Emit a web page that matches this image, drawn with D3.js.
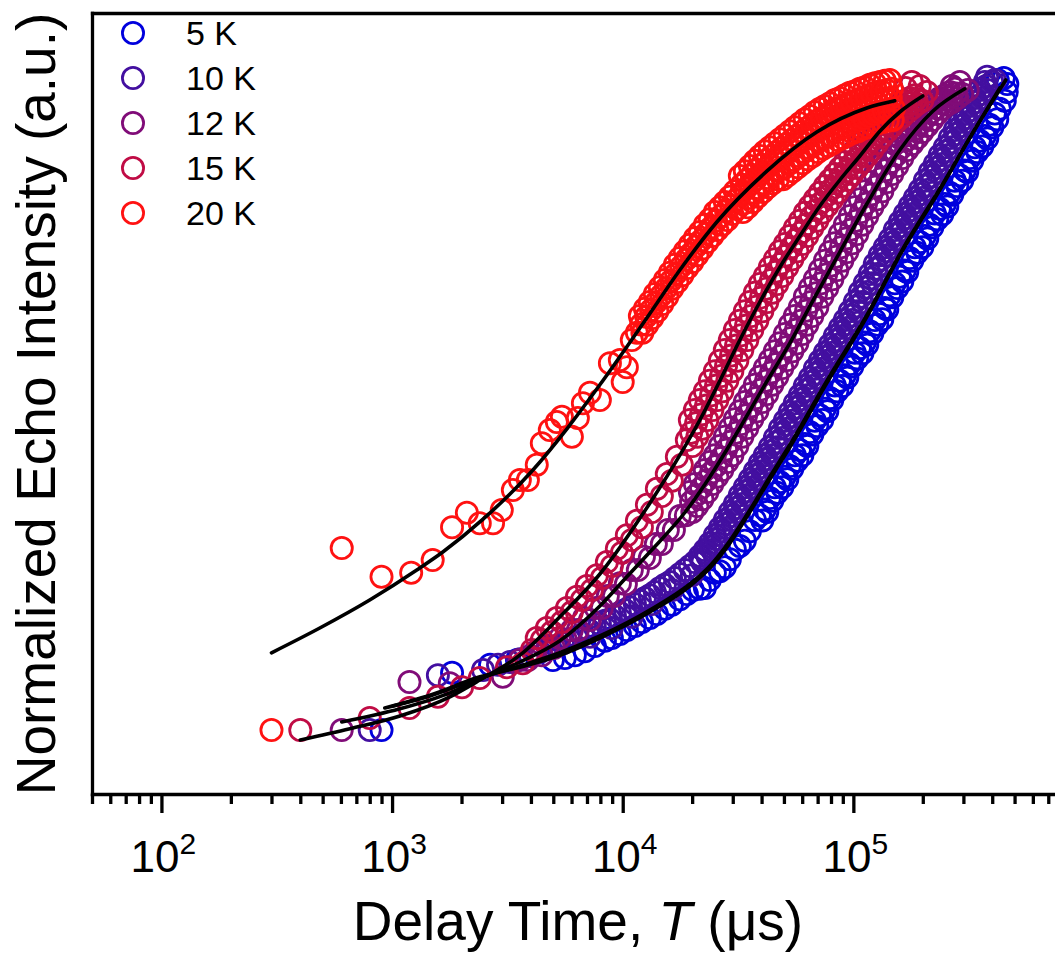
<!DOCTYPE html>
<html>
<head>
<meta charset="utf-8">
<script src="https://cdn.jsdelivr.net/npm/d3@7"></script>
<style>
  body { margin: 0; background: #fff; }
  svg { display: block; }
  text { font-family: "Liberation Sans", Arial, sans-serif; fill: #000; }
</style>
</head>
<body>
<div id="main"></div>
<script>
const ctx = {
    width: 1055,
    height: 957,
    left: 92,
    right: 1084,
    top: 13,
    bottom: 794
};

// axis setup
const xDomain = [50, 1e6];
const yDomain = [-7.75, 89.875];
const majorTicks = [1e2, 1e3, 1e4, 1e5];
const tickExps = ["2", "3", "4", "5"];

const labels = ["5 K", "10 K", "12 K", "15 K", "20 K"];
const colors = ["#0000dd", "#430fa0", "#800c78", "#c00c45", "#ff1212"];

// measured points [delay time in us, normalized echo intensity]
const k5 = [[900,0.25],[1820,7.4],[2660,8.4],[3480,9.0],[4980,9.0],[5610,9.25],[6200,9.6],[6850,10.1],[7570,10.75],[8370,11.4],[8970,11.75],[9720,12.25],[10420,12.75],[11290,13.25],[12110,13.75],[13110,14.25],[14060,14.75],[15230,15.4],[16330,15.9],[17690,16.6],[18970,17.25],[20140,17.75],
[21600,17.9],[22710,18.0],[23870,19.0],[25090,19.9],[26370,20.1],[27720,20.6],[29140,21.6],[30630,22.8],[32200,23.25],[33850,23.9],[35580,25.1],[37400,26.5],[39310,27.1],[41320,27.8],[43440,29.25],[45660,30.6],[48000,31.25],[50450,31.9],[53040,33.25],[55750,34.6],[58610,35.25],[61610,36.0],[64760,37.5],[68070,38.9],[71560,39.6],[75220,40.4],[79070,41.75],[83120,43.3],[87370,43.9],[91840,44.6],[96540,46.0],[101500,47.4],[106700,48.0],[112100,48.7],[117900,50.1],[123900,51.5],[130200,52.25],[136900,53.0],[143900,54.6],[151300,56.1],[159000,56.9],[167100,57.7],[175700,59.25],[184700,60.6],[194100,61.25],[204100,62.0],[214500,63.4],[225500,64.8],[237000,65.4],[249200,66.0],[261900,67.4],[275300,68.9],[289400,69.6],[304200,70.2],[319800,71.75],[336200,73.1],[353300,73.9],[371400,74.5],[390400,75.9],[410400,77.3],[422700,81.5],[431400,77.9],[449100,81.75],[453500,78.9],[462600,80.0],[465000,81.0],
[40290,26.45],[42350,27.5],[44530,28.9],[46800,29.9],[49200,30.6],[51710,31.6],[54370,32.9],[57140,33.9],[60080,34.6],[63150,35.75],[66380,37.2],[69770,38.25],[73350,39.0],[77100,40.1],[81050,41.5],[85200,42.6],[89550,43.25],[94140,44.3],[98950,45.7],[104000,46.7],[109400,47.35],[114900,48.4],[120800,49.8],[127000,50.9],[133500,51.6],[140300,52.8],[147500,54.35],[155100,55.5],[163000,56.3],[171300,57.5],[180100,58.9],[189300,59.9],[199000,60.6],[209200,61.7],[219900,63.1],[231100,64.1],[242900,64.7],[255400,65.7],[268400,67.15],[282200,68.25],[296600,68.9],[311800,70.0],[327800,71.4],[344600,72.5],[362100,73.2],[380700,74.2],[400200,75.6],[420600,76.6]];

const k10 = [[800,0.25],[1580,7.1],[2480,7.75],[2880,8.4],[3240,8.75],[3580,9.1],[3960,9.5],[4380,10.0],[4740,10.4],[5130,10.75],[5500,11.1],[5900,11.5],[6330,11.9],[6720,12.25],[7140,12.75],[7210,11.9],[7570,13.1],[7960,13.5],[8370,13.9],[8800,14.1],[8970,13.0],[9250,14.5],[9720,14.9],[10220,15.25],[10740,15.6],[10950,14.4],[11290,16.0],[11870,16.4],[12480,16.75],[13110,17.1],[13370,16.0],[13780,17.5],[14490,18.0],[15230,18.4],[16010,18.75],[16330,17.75],[16830,19.25],[17690,19.75],[18600,20.25],[19550,20.75],[19940,19.6],[20550,21.25],
[21600,22.0],[22140,21.25],[22710,22.75],[23280,22.0],[23870,23.6],[24470,22.75],[25090,24.6],[25720,23.6],[26370,25.5],[27030,24.6],[27720,26.5],[28410,25.5],[29140,27.5],[29870,26.5],[30630,28.5],[31400,27.5],[32200,29.6],[33010,28.5],[33850,30.6],[34700,29.6],[35580,31.6],[36470,30.6],[37400,32.6],[38340,31.6],[39310,33.6],[40290,32.6],[41320,34.6],[42350,33.6],[43440,35.6],[44530,34.6],[45660,36.75],[46800,35.6],[48000,37.9],[49200,36.75],[50450,38.9],[51710,37.9],[53040,40.0],[54370,38.9],[55750,41.1],[57140,40.0],[58610,42.1],[60080,41.1],[61610,43.25],[63150,42.1],[64760,44.25],[66380,43.25],[68070,45.4],[69770,44.25],[71560,46.4],[73350,45.4],[75220,47.4],[77100,46.4],[79070,48.4],[81050,47.4],[83120,49.5],[85200,48.4],[87370,50.5],[89550,49.5],[91840,51.5],[94140,50.5],[96540,52.6],[98950,51.5],[101500,53.75],[104000,52.6],[106700,55.0],[109400,53.75],[112100,56.1],[114900,55.0],[117900,57.25],[120800,56.1],[123900,58.5],[127000,57.25],[130200,59.6],[133500,58.5],[136900,60.6],[140300,59.6],[143900,61.6],[147500,60.6],[151300,62.75],[155100,61.6],[159000,63.75],[163000,62.75],[167100,64.75],[171300,63.75],[175700,65.75],[180100,64.75],[184700,66.75],[189300,65.75],[194100,67.75],[199000,66.75],[204100,68.9],[209200,67.75],[214500,70.0],[219900,68.9],[225500,71.0],[231100,70.0],[237000,72.1],[242900,71.0],[249200,73.1],[255400,72.1],[261900,74.25],[268400,73.1],[275300,75.25],[282200,74.25],[289400,76.25],[296600,75.25],[304200,77.25],[311800,76.25],[319800,78.25],[327800,77.25],[336200,79.25],[344600,78.25],[353300,80.25],[362100,79.25],[371400,81.25],[380000,81.9],[380700,80.25],[400200,81.25],[410400,81.5],
[21870,21.6],[22990,22.4],[24170,23.2],[25400,24.1],[26700,25.05],[28070,26.0],[29500,27.0],[31010,28.0],[32600,29.05],[34270,30.1],[36020,31.1],[37870,32.1],[39800,33.1],[41840,34.1],[43980,35.1],[46230,36.2],[48600,37.3],[51080,38.4],[53700,39.45],[56450,40.55],[59340,41.6],[62380,42.7],[65570,43.75],[68920,44.8],[72450,45.9],[76160,46.9],[80060,47.9],[84160,48.95],[88460,50.0],[92990,51.0],[97750,52.05],[102800,53.2],[108000,54.4],[113500,55.55],[119400,56.7],[125400,57.9],[131800,59.05],[138600,60.1],[145700,61.1],[153200,62.2],[161000,63.25],[169200,64.25],[177900,65.25],[187000,66.25],[196500,67.25],[206700,68.3],[217200,69.45],[228300,70.5],[240000,71.55],[252300,72.6],[265200,73.7],[278700,74.75],[293000,75.75],[308000,76.75],[323800,77.75],[340400,78.75],[357700,79.75],[376000,80.75]];

const k12 = [[605,0.25],[1190,6.25],[1780,6.1],[3020,6.9],[3580,9.0],[3880,9.0],[4160,10.0],[4460,9.6],[4740,10.75],[5030,10.5],[5340,11.75],[5670,11.5],[6020,12.75],[6390,12.75],[6790,14.25],[7210,14.0],[7650,15.5],[8120,15.5],[8620,17.0],[9160,17.0],[9720,18.6],[10320,18.5],[10950,20.25],[11630,20.25],[12360,21.9],[13110,21.75],[13920,23.5],[14780,23.5],[15690,25.25],[16670,25.25],[17690,27.0],[18790,27.1],
[19550,30.0],[20040,27.5],[20550,31.0],[21060,28.25],[21600,31.9],[22140,29.1],[22710,32.75],[23280,30.0],[23870,33.75],[24470,31.0],[25090,34.6],[25720,31.9],[26370,35.75],[27030,32.75],[27720,36.9],[28410,33.75],[29140,38.0],[29870,34.6],[30630,39.1],[31400,35.75],[32200,40.1],[33010,36.9],[33850,41.25],[34700,38.0],[35580,42.25],[36470,39.1],[37400,43.4],[38340,40.1],[39310,44.4],[40290,41.25],[41320,45.5],[42350,42.25],[43440,46.5],[44530,43.4],[45660,47.6],[46800,44.4],[48000,48.6],[49200,45.5],[50450,49.75],[51710,46.5],[53040,50.9],[54370,47.6],[55750,52.0],[57140,48.6],[58610,53.1],[60080,49.75],[61610,54.4],[63150,50.9],[64760,55.5],[66380,52.0],[68070,56.6],[69770,53.1],[71560,57.75],[73350,54.4],[75220,58.9],[77100,55.5],[79070,60.0],[81050,56.6],[83120,61.1],[85200,57.75],[87370,62.25],[89550,58.9],[91840,63.4],[94140,60.0],[96540,64.5],[98950,61.1],[101500,65.6],[104000,62.25],[106700,66.6],[109400,63.4],[112100,67.6],[114900,64.5],[117900,68.75],[120800,65.6],[123900,69.75],[127000,66.6],[130200,70.75],[133500,67.6],[136900,71.75],[140300,68.75],[143900,72.75],[147500,69.75],[151300,73.5],[155100,70.75],[159000,74.25],[163000,71.75],[167100,75.0],[171300,72.75],[175700,75.75],[180100,73.5],[184700,76.5],[189300,74.25],[194100,77.25],[199000,75.0],[204100,77.9],[209200,75.75],[214500,78.4],[219900,76.5],[225500,78.75],[231100,77.25],[237000,79.25],[242900,77.9],[249200,79.6],[255400,78.4],[261900,80.0],[267100,80.75],[268400,78.75],[275300,80.4],[282200,79.25],[289400,81.25],[296600,79.75],[313300,80.25],
[19790,28.75],[20810,29.6],[21870,30.5],[22990,31.4],[24170,32.4],[25400,33.25],[26700,34.25],[28070,35.3],[29500,36.3],[31010,37.4],[32600,38.5],[34270,39.6],[36020,40.7],[37870,41.75],[39800,42.8],[41840,43.9],[43980,44.95],[46230,46.0],[48600,47.05],[51080,48.1],[53700,49.25],[56450,50.3],[59340,51.4],[62380,52.65],[65570,53.75],[68920,54.85],[72450,56.1],[76160,57.2],[80060,58.3],[84160,59.4],[88460,60.6],[92990,61.7],[97750,62.8],[102800,63.9],[108000,65.0],[113500,66.05],[119400,67.2],[125400,68.2],[131800,69.2],[138600,70.25],[145700,71.25],[153200,72.1],[161000,73.0],[169200,73.9],[177900,74.6],[187000,75.4],[196500,76.1],[206700,76.8],[217200,77.45],[228300,78.0],[240000,78.6],[252300,79.0],[265200,79.4],[278700,79.8]];

const k15 = [[400,0.25],[800,1.75],[1190,3.0],[1580,4.4],[2010,5.6],[2400,6.75],[3150,8.1],[3690,8.6],[4040,10.25],[4240,11.75],[4460,11.5],[4690,13.0],[4930,12.5],[5180,14.25],[5450,13.75],[5730,15.5],[6020,15.0],[6330,16.9],[6650,16.5],[6990,18.25],[7350,17.75],[7730,19.6],[8120,19.25],[8540,21.25],[8970,20.75],[9430,22.9],[9920,22.4],[10420,24.6],[10950,24.0],[11520,26.4],[12110,25.6],[12730,28.4],[13370,27.5],[14060,30.4],[14780,29.5],[15530,32.25],[16330,31.4],[17170,34.4],[18040,33.4],[18970,36.5],
[19550,39.0],[20040,35.75],[20550,40.25],[21060,36.9],[21600,41.5],[22140,37.9],[22710,42.6],[23280,39.0],[23870,43.9],[24470,40.25],[25090,45.1],[25720,41.5],[26370,46.4],[27030,42.6],[27720,47.75],[28410,43.9],[29140,49.0],[29870,45.1],[30630,50.25],[31400,46.4],[32200,51.4],[33010,47.75],[33850,52.6],[34700,49.0],[35580,53.75],[36470,50.25],[37400,54.9],[38340,51.4],[39310,56.0],[40290,52.6],[41320,57.0],[42350,53.75],[43440,58.1],[44530,54.9],[45660,59.1],[46800,56.0],[48000,60.1],[49200,57.0],[50450,61.0],[51710,58.1],[53040,62.0],[54370,59.1],[55750,63.0],[57140,60.1],[58610,63.9],[60080,61.0],[61610,64.9],[63150,62.0],[64760,65.75],[66380,63.0],[68070,66.6],[69770,63.9],[71560,67.4],[73350,64.9],[75220,68.25],[77100,65.75],[79070,69.0],[81050,66.6],[83120,69.75],[85200,67.4],[87370,70.5],[89550,68.25],[91840,71.25],[94140,69.0],[96540,72.0],[98950,69.75],[101500,72.75],[104000,70.5],[106700,73.6],[109400,71.25],[112100,74.4],[114900,72.0],[117900,75.1],[120800,72.75],[123900,75.75],[127000,73.6],[130200,76.4],[133500,74.4],[136900,76.9],[140300,75.1],[143900,77.5],[147500,75.75],[151300,78.0],[155100,76.4],[159000,78.5],[163000,76.9],[167100,78.9],[168500,80.5],[171300,77.5],[175700,79.25],[179200,81.25],[180100,78.0],[184700,79.6],[189300,78.5],[194100,80.75],[199000,78.9],[208200,80.0],
[19790,37.4],[20810,38.6],[21870,39.7],[22990,40.8],[24170,42.1],[25400,43.3],[26700,44.5],[28070,45.8],[29500,47.05],[31010,48.3],[32600,49.6],[34270,50.8],[36020,52.0],[37870,53.15],[39800,54.3],[41840,55.4],[43980,56.5],[46230,57.55],[48600,58.55],[51080,59.55],[53700,60.55],[56450,61.55],[59340,62.45],[62380,63.45],[65570,64.4],[68920,65.25],[72450,66.15],[76160,67.0],[80060,67.8],[84160,68.6],[88460,69.4],[92990,70.1],[97750,70.9],[102800,71.6],[108000,72.4],[113500,73.2],[119400,73.9],[125400,74.7],[131800,75.4],[138600,76.0],[145700,76.6],[153200,77.2],[161000,77.7],[169200,78.2],[177900,78.6],[187000,79.05]];

const k20 = [[300,0.25],[605,23.0],[900,19.4],[1210,19.9],[1500,21.5],[1820,25.6],[2110,27.4],[2400,26.1],[2740,26.1],[2990,27.75],[3340,30.25],[3580,31.5],[3880,31.5],[4240,33.4],[4460,36.1],[4830,37.75],[5180,38.75],[5450,39.4],[6020,36.9],[6390,39.25],[6720,41.1],[7210,42.4],[7960,41.5],[8800,46.1],[9720,46.5],[10000,43.75],[10420,45.6],[10950,49.0],[11520,49.9],
[11870,52.0],[12170,49.9],[12480,52.9],[12790,50.9],[13110,53.75],[13440,51.75],[13780,54.75],[14120,52.6],[14490,55.6],[14850,53.5],[15230,56.5],[15610,54.4],[16010,57.4],[16410,55.4],[16830,58.4],[17250,56.25],[17690,59.25],[18130,57.1],[18600,60.1],[19070,58.0],[19550,60.9],[20040,58.75],[20550,61.75],[21060,59.6],[21600,62.5],[22140,60.4],[22710,63.4],[23280,61.25],[23870,64.1],[24470,62.0],[25090,65.0],[25720,62.75],[26370,65.6],[27030,63.4],[27720,66.25],[28410,64.0],[29140,66.9],[29870,64.75],[30630,67.6],[31400,65.4],
[12020,50.95],[12640,51.9],[13270,52.75],[13950,53.7],[14670,54.55],[15420,55.45],[16210,56.4],[17040,57.3],[17910,58.2],[18830,59.05],[19790,59.8],[20810,60.7],[21870,61.45],[22990,62.3],[24170,63.05],[25400,63.9],[26700,64.5],[28070,65.1],[29500,65.8],[31010,66.5],
[32200,69.5],[32520,67.25],[33170,65.0],[33850,70.1],[34190,67.9],[34870,65.6],[35580,70.75],[35940,68.5],[36650,66.25],[37400,71.4],[37770,69.1],[38520,66.9],[39310,72.0],[39700,69.75],[40490,67.5],[41320,72.6],[41730,70.4],[42560,68.1],[43440,73.1],[43870,70.9],[44740,68.6],[45660,73.6],[46120,71.4],[47030,69.1],[48000,74.1],[48480,71.9],[49440,69.1],[50450,74.6],[50950,72.4],[51960,69.6],[53040,75.1],[53570,72.9],[54630,70.1],[55750,75.6],[56310,73.4],[57420,70.6],[58610,76.1],[59200,73.9],[60370,71.1],[61610,76.6],[62230,74.4],[63460,71.6],[64760,77.0],[65410,74.75],[66700,72.0],[68070,77.5],[68750,75.25],[70110,72.5],[71560,77.9],[72280,75.6],[73710,72.9],[75220,78.25],[75970,76.0],[77480,73.25],[79070,78.6],[79860,76.4],[81440,73.6],[83120,79.0],[83950,76.75],[85610,74.0],[87370,79.25],[88240,77.0],[89990,74.25],[91840,79.6],[92760,77.4],[94600,74.6],[96540,79.9],[97510,77.6],[99440,74.9],[101500,80.1],[102500,77.9],[104500,75.1],[106700,80.4],[107800,78.1],[109900,75.4],[112100,80.6],[113200,78.4],[115500,75.6],[117900,80.9],[119100,78.6],[121400,75.9],[123900,81.1],[125100,78.9],[127600,76.1],[130200,81.25],[131500,79.0],[134100,76.25],[136900,81.4],[138300,79.1],[141000,76.4],[143900,81.5],[145300,79.25],[148200,76.5],
[32840,68.4],[33520,66.1],[34530,69.0],[35240,66.75],[36290,69.6],[37040,67.4],[38150,70.25],[38930,68.0],[40100,70.9],[40920,68.6],[42150,71.5],[43010,69.25],[44310,72.0],[45220,69.75],[46570,72.5],[47530,70.25],[48960,73.0],[49970,70.5],[51460,73.5],[52520,71.0],[54100,74.0],[55210,71.5],[56870,74.5],[58040,72.0],[59780,75.0],[61010,72.5],[62840,75.5],[64140,73.0],[66060,75.9],[67410,73.4],[69430,76.4],[70860,73.9],[72990,76.75],[74490,74.25],[76720,77.1],[78300,74.6],[80650,77.5],[82310,75.0],[84780,77.9],[86530,75.4],[89120,78.1],[90950,75.6],[93680,78.5],[95600,76.0],[98470,78.75],[100500,76.25],[103500,79.0],[105700,76.5],[108800,79.25],[111100,76.75],[114300,79.5],[116700,77.0],[120300,79.75],[122700,77.25],[126400,80.0],[129000,77.5],[132800,80.1],[135500,77.6],[139600,80.25],[142500,77.75],[146800,80.4],[149800,77.9]];

// fitted curves
const fit5 = [[930,3.0],[1460,4.6],[2404,6.9],[3583,8.1],[5341,9.6],[7962,11.75],[13110,15.0],[19550,18.25],[23870,20.5],[29140,23.6],[35580,27.5],[43440,31.6],[53040,35.6],[76710,43.6],[114400,51.9],[163800,60.25],[237000,67.75],[329400,74.9],[458200,81.5]];
const fit10 = [[1010,3.25],[1460,4.5],[2404,6.75],[3583,8.25],[5341,9.9],[7962,12.0],[13110,15.25],[19550,18.5],[23870,20.75],[29140,23.9],[35580,27.75],[43440,31.9],[53040,35.9],[76710,43.9],[114400,52.1],[163800,60.4],[237000,67.9],[329400,74.9],[431400,80.5]];
const fit12 = [[605,1.25],[1081,2.9],[1782,4.9],[2404,6.6],[3583,8.75],[5341,11.4],[7962,15.75],[10420,19.4],[13110,22.5],[18960,27.75],[23390,31.5],[32200,38.0],[41320,43.4],[53040,48.6],[66700,53.9],[87370,60.0],[114400,66.0],[159000,72.75],[220900,77.6],[304200,80.4]];
const fit15 = [[400,-1.0],[656,0.4],[1081,2.0],[1782,4.4],[2404,6.5],[3583,9.6],[5341,14.4],[7962,19.75],[13110,28.6],[17690,34.6],[21600,39.0],[26370,43.9],[32200,49.0],[39310,53.75],[48000,58.1],[58610,62.0],[71560,65.75],[87370,69.0],[106700,72.0],[130200,75.1],[159000,77.5],[199900,79.5]];
const fit20 = [[300,9.9],[486,13.0],[800,16.5],[1280,20.25],[1660,22.5],[2480,26.6],[4080,32.75],[5730,37.9],[7960,43.4],[12720,51.75],[17690,57.75],[25590,63.75],[42140,70.1],[69420,75.0],[114400,78.0],[151200,78.9]];

const series = [
    {label: labels[0], color: colors[0], pts: k5, fit: fit5},
    {label: labels[1], color: colors[1], pts: k10, fit: fit10},
    {label: labels[2], color: colors[2], pts: k12, fit: fit12},
    {label: labels[3], color: colors[3], pts: k15, fit: fit15},
    {label: labels[4], color: colors[4], pts: k20, fit: fit20}
];

const svg = d3.select("#main").append("svg")
    .attr("width", ctx.width)
    .attr("height", ctx.height);

const x = d3.scaleLog().domain(xDomain).range([ctx.left, ctx.right]);
const y = d3.scaleLinear().domain(yDomain).range([ctx.bottom, ctx.top]);

// open circles, lowest temperature first so the hotter ones sit on top
series.forEach(s => {
    svg.append("g")
        .selectAll("circle")
        .data(s.pts)
        .enter().append("circle")
        .attr("cx", d => x(d[0]))
        .attr("cy", d => y(d[1]))
        .attr("r", 10.6)
        .attr("fill", "none")
        .attr("stroke", s.color)
        .attr("stroke-width", 2.8);
});

// fit lines
const line = d3.line()
    .x(d => x(d[0]))
    .y(d => y(d[1]))
    .curve(d3.curveMonotoneX);

series.forEach(s => {
    svg.append("path")
        .datum(s.fit)
        .attr("d", line)
        .attr("fill", "none")
        .attr("stroke", "#000")
        .attr("stroke-width", 3.6)
        .attr("stroke-linecap", "round");
});

// frame and ticks
function styleAxis(g) {
    g.selectAll("path, line").attr("stroke", "#000").attr("stroke-width", 3.3);
    g.select(".domain").attr("stroke-linecap", "square");
}

svg.append("g")
    .attr("transform", `translate(0,${ctx.bottom})`)
    .call(d3.axisBottom(x).tickValues(majorTicks).tickSize(19).tickSizeOuter(0).tickFormat(""))
    .call(styleAxis);

const minorTicks = x.ticks().filter(v => Math.abs(Math.log10(v) % 1) > 1e-6);
svg.append("g")
    .attr("transform", `translate(0,${ctx.bottom})`)
    .call(d3.axisBottom(x).tickValues(minorTicks).tickSize(10).tickFormat(""))
    .call(g => g.select(".domain").remove())
    .call(styleAxis);

svg.append("g")
    .attr("transform", `translate(${ctx.left},0)`)
    .call(d3.axisLeft(y).tickValues([]).tickSizeOuter(0))
    .call(styleAxis);

svg.append("g")
    .attr("transform", `translate(0,${ctx.top})`)
    .call(d3.axisTop(x).tickValues([]).tickSizeOuter(0))
    .call(styleAxis);

// tick labels 10^n
majorTicks.forEach((v, k) => {
    const t = svg.append("text")
        .attr("x", x(v) + 2)
        .attr("y", 872)
        .attr("text-anchor", "middle")
        .style("font-size", "44px");
    t.append("tspan").text("10");
    t.append("tspan").attr("dy", -18).style("font-size", "30px").text(tickExps[k]);
});

// axis titles
const xl = svg.append("text")
    .attr("x", 578)
    .attr("y", 940)
    .attr("text-anchor", "middle")
    .style("font-size", "55px");
xl.append("tspan").text("Delay Time, ");
xl.append("tspan").style("font-style", "italic").text("T");
xl.append("tspan").text(" (\u03bcs)");

svg.append("text")
    .attr("transform", "translate(55,404) rotate(-90)")
    .attr("text-anchor", "middle")
    .style("font-size", "55px")
    .text("Normalized Echo Intensity (a.u.)");

// legend
const legend = svg.append("g");
series.forEach((s, i) => {
    const cy = 33 + 45 * i;
    legend.append("circle")
        .attr("cx", 133).attr("cy", cy).attr("r", 10.6)
        .attr("fill", "none").attr("stroke", s.color).attr("stroke-width", 2.8);
    legend.append("text")
        .attr("x", 186).attr("y", cy + 12)
        .style("font-size", "34px")
        .text(s.label);
});
</script>
</body>
</html>
